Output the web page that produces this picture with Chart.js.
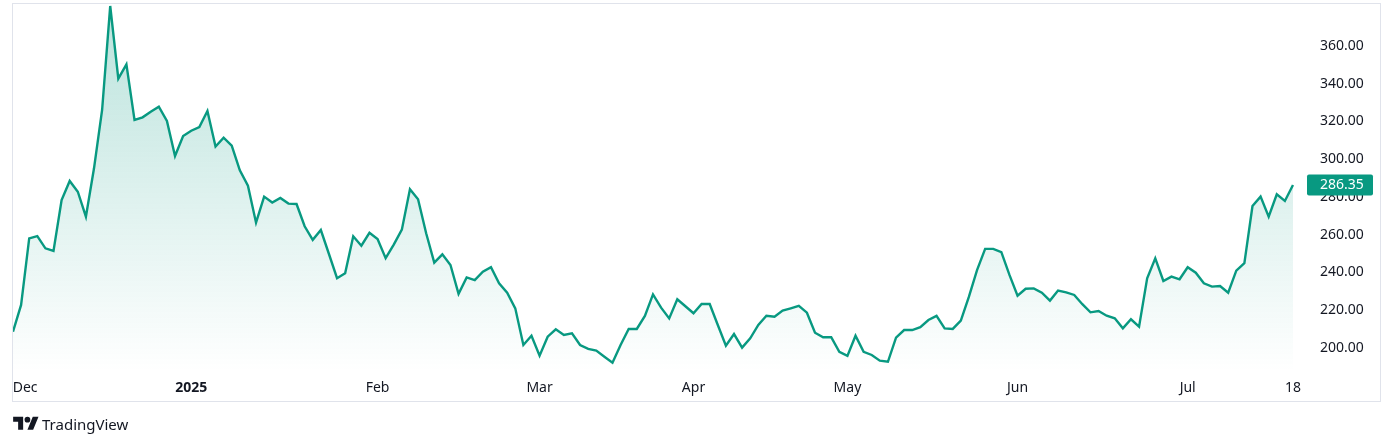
<!DOCTYPE html>
<html>
<head>
<meta charset="utf-8">
<title>Price chart</title>
<script src="https://cdn.jsdelivr.net/npm/chart.js@4.4.1/dist/chart.umd.min.js"></script>
<style>
  html, body { margin: 0; padding: 0; background: #ffffff; }
  #wrap { position: relative; width: 1394px; height: 447px; overflow: hidden; }
  #chartBox { position: absolute; left: 0; top: 0; width: 1394px; height: 447px; }
  #frame { position: absolute; left: 12px; top: 3px; width: 1367px; height: 397px; border: 1px solid #e0e3eb; pointer-events: none; }
  #logo { position: absolute; left: 13px; top: 414px; width: 26px; height: 20px; }
  #brand { position: absolute; left: 42px; top: 414px; line-height: 20px; font-family: "Noto Sans", sans-serif; font-size: 15px; color: #131722; }
</style>
</head>
<body>
<div id="wrap">
  <div id="frame"></div>
  <div id="chartBox"><canvas id="priceChart"></canvas></div>
  <svg id="logo" viewBox="0 0 36 28" fill="#131722">
    <path d="M14 22H7V11H0V4h14v18zM28 22h-8l7.5-18h8L28 22z"></path>
    <circle cx="20" cy="8" r="4"></circle>
  </svg>
  <span id="brand">TradingView</span>
</div>
<script>
// daily closes, first bar late Nov 2024 -> 18 Jul 2025
const closes = [
  208.6, 222.8, 258.1, 259.3, 252.8, 251.4, 278.4, 288.5, 282.8, 269.6,
  295.2, 326.1, 381.2, 342.7, 350.3, 320.8, 322.2, 325.2, 327.8, 320.3,
  301.7, 312.3, 315.1, 317.1, 325.6, 306.7, 311.4, 307.2, 294.1, 286.0,
  266.4, 280.2, 277.1, 279.5, 276.5, 276.3, 264.5, 257.3, 262.5, 249.8,
  237.0, 239.6, 259.2, 254.2, 261.0, 257.7, 247.6, 254.8, 262.7, 284.1,
  278.8, 260.8, 245.2, 249.6, 244.0, 228.7, 237.4, 236.0, 240.4, 242.8,
  234.3, 229.3, 221.0, 201.6, 206.5, 195.9, 206.0, 209.9, 206.9, 207.8,
  201.6, 199.5, 198.6, 195.4, 192.2, 201.6, 210.1, 210.1, 217.0, 228.4,
  221.4, 215.7, 225.8, 222.1, 218.4, 223.3, 223.3, 212.2, 201.2, 207.4,
  200.2, 205.1, 212.2, 217.1, 216.6, 219.8, 221.0, 222.3, 218.7, 208.1,
  205.7, 205.7, 198.0, 195.8, 206.5, 198.0, 196.3, 193.3, 192.7, 205.5,
  209.5, 209.5, 211.0, 214.8, 217.0, 210.4, 210.1, 214.5, 227.2, 241.3,
  252.5, 252.5, 250.8, 238.7, 227.7, 231.4, 231.6, 229.3, 225.1, 230.4,
  229.5, 228.1, 223.2, 218.9, 219.6, 217.1, 215.7, 210.4, 215.2, 211.3,
  236.9, 247.5, 235.5, 237.8, 236.4, 242.8, 239.9, 234.3, 232.5, 232.8,
  229.3, 241.0, 244.9, 275.2, 280.2, 269.6, 281.4, 277.9, 286.35
];

// bar index where each time label sits
const xTickPos = [1.5, 22, 45, 65, 84, 103, 124, 145, 158];
const xTickText = ['Dec', '2025', 'Feb', 'Mar', 'Apr', 'May', 'Jun', 'Jul', '18'];
const yTicks = [200, 220, 240, 260, 280, 300, 320, 340, 360];
const lastPrice = closes[closes.length - 1];

const teal = '#089981';
const textColor = '#131722';
const fontFamily = '"Noto Sans", sans-serif';

// last price badge on the price scale
const priceTag = {
  id: 'priceTag',
  afterDraw(chart) {
    const { ctx, chartArea, scales } = chart;
    const py = scales.y.getPixelForValue(lastPrice);
    ctx.save();
    ctx.fillStyle = teal;
    ctx.beginPath();
    ctx.roundRect(chartArea.right - 3, py - 10.5, 66, 21, 2);
    ctx.fill();
    ctx.fillStyle = '#ffffff';
    ctx.font = '14px ' + fontFamily;
    ctx.textBaseline = 'middle';
    ctx.textAlign = 'left';
    ctx.fillText(lastPrice.toFixed(2), chartArea.right + 10, py + 0.5);
    ctx.restore();
  }
};

const ctx = document.getElementById('priceChart').getContext('2d');
const priceChart = new Chart(ctx, {
  type: 'line',
  data: {
    datasets: [{
      data: closes.map((v, i) => ({ x: i, y: v })),
      borderColor: teal,
      borderWidth: 2.4,
      pointRadius: 0,
      tension: 0,
      fill: 'start',
      backgroundColor: function (c) {
        const area = c.chart.chartArea;
        if (!area) return 'rgba(8,153,129,0.15)';
        const g = c.chart.ctx.createLinearGradient(0, area.top, 0, area.bottom);
        g.addColorStop(0, 'rgba(8,153,129,0.28)');
        g.addColorStop(1, 'rgba(8,153,129,0.0)');
        return g;
      }
    }]
  },
  options: {
    responsive: true,
    maintainAspectRatio: false,
    animation: false,
    layout: { padding: { left: 13, top: 4, right: 14, bottom: 45 } },
    plugins: {
      legend: { display: false },
      tooltip: { enabled: false }
    },
    scales: {
      x: {
        type: 'linear',
        min: 0,
        max: 160.1,
        grid: { display: false, drawTicks: false },
        border: { display: false },
        afterBuildTicks: function (s) {
          s.ticks = xTickPos.map(v => ({ value: v }));
        },
        afterFit: function (s) {
          s.height = 30;
          s.paddingLeft = 0;
          s.paddingRight = 0;
        },
        ticks: {
          autoSkip: false,
          maxRotation: 0,
          padding: 8,
          color: textColor,
          font: function (c) {
            const bold = c.tick && c.index === 1;
            return { family: fontFamily, size: 14, weight: bold ? 'bold' : 'normal' };
          },
          callback: function (value, index) { return xTickText[index]; }
        }
      },
      y: {
        position: 'right',
        min: 187.28,
        max: 382.25,
        grid: { display: false, drawTicks: false },
        border: { display: false },
        afterBuildTicks: function (s) {
          s.ticks = yTicks.map(v => ({ value: v }));
        },
        afterFit: function (s) {
          s.width = 70;
          s.paddingTop = 0;
          s.paddingBottom = 0;
        },
        ticks: {
          padding: 10,
          color: textColor,
          font: { family: fontFamily, size: 14 },
          callback: function (value) { return value.toFixed(2); }
        }
      }
    }
  },
  plugins: [priceTag]
});
</script>
</body>
</html>
